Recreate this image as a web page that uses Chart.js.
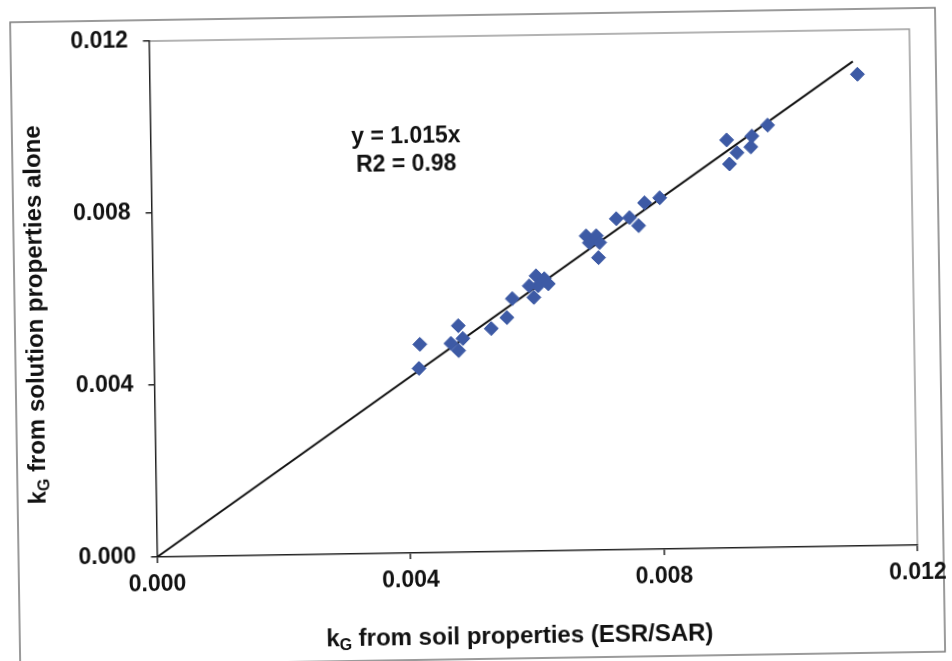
<!DOCTYPE html>
<html>
<head>
<meta charset="utf-8">
<script src="https://cdn.jsdelivr.net/npm/chart.js@4/dist/chart.umd.min.js"></script>
<style>
  html, body { margin: 0; padding: 0; background: #ffffff; overflow: hidden; }
  #wrap { width: 952px; height: 661px; transform: rotate(-0.9deg); transform-origin: 476px 330px; }
  canvas { display: block; }
</style>
</head>
<body>
<div id="wrap"><canvas id="c" width="952" height="661"></canvas></div>
<script>
// ---- data ----
const soilK = [0.01117, 0.00974, 0.00949, 0.00947, 0.00909, 0.00925, 0.00913,
  0.00802, 0.00778, 0.00733, 0.00754, 0.00768, 0.00685, 0.00701, 0.00690, 0.00706,
  0.00704, 0.00605, 0.00618, 0.00608, 0.00594, 0.00601, 0.00624, 0.00567, 0.00558,
  0.00533, 0.00481, 0.00469, 0.00488, 0.00481, 0.00420, 0.00418];
const solutionK = [0.01097, 0.00982, 0.00957, 0.00932, 0.00949, 0.00919, 0.00893,
  0.00817, 0.00806, 0.00770, 0.00772, 0.00753, 0.00731, 0.00731, 0.00715, 0.00715,
  0.00680, 0.00640, 0.00633, 0.00617, 0.00617, 0.00590, 0.00621, 0.00588, 0.00544,
  0.00519, 0.00527, 0.00486, 0.00497, 0.00469, 0.00485, 0.00429];
const trendX = [0, 0.0111];
const trendY = [0, 0.01127];
const tickValues = [0.000, 0.004, 0.008, 0.012];
const tickLabels = ['0.000', '0.004', '0.008', '0.012'];
const equationLines = ['y = 1.015x', 'R2 = 0.98'];
const xTitle = 'kG from soil properties (ESR/SAR)';
const yTitle = 'kG from solution properties alone';

const FONT = '"Liberation Sans", Arial, Helvetica, sans-serif';
const points = soilK.map((x, i) => ({ x: x, y: solutionK[i] }));
const trend = trendX.map((x, i) => ({ x: x, y: trendY[i] }));

const framePlugin = {
  id: 'frame',
  beforeDraw(chart) {
    const ctx = chart.ctx;
    ctx.save();
    ctx.fillStyle = '#ffffff';
    ctx.fillRect(0, 0, chart.width, chart.height);
    ctx.strokeStyle = '#7a7a7a';
    ctx.lineWidth = 1.5;
    ctx.strokeRect(15, 15, 925, 644);
    const a = chart.chartArea;
    ctx.strokeStyle = '#9a9a9a';
    ctx.lineWidth = 1.5;
    ctx.beginPath();
    ctx.moveTo(a.left, a.top);
    ctx.lineTo(a.right, a.top);
    ctx.lineTo(a.right, a.bottom);
    ctx.stroke();
    ctx.restore();
  },
  afterDraw(chart) {
    const ctx = chart.ctx;
    const xs = chart.scales.x, ys = chart.scales.y;
    ctx.save();
    ctx.fillStyle = '#111111';
    ctx.font = 'bold 23px ' + FONT;
    ctx.textAlign = 'center';
    ctx.textBaseline = 'middle';
    const cx = xs.getPixelForValue(0.00403);
    ctx.fillText(equationLines[0], cx, ys.getPixelForValue(0.00968));
    ctx.fillText(equationLines[1], cx, ys.getPixelForValue(0.00902));
    // axis titles with subscript G
    const drawSub = (x, y, rot, rest) => {
      ctx.save();
      ctx.translate(x, y);
      ctx.rotate(rot);
      const big = 'bold 24px ' + FONT, small = 'bold 16px ' + FONT;
      ctx.font = big;
      const wK = ctx.measureText('k').width;
      ctx.font = small;
      const wG = ctx.measureText('G').width;
      ctx.font = big;
      const wR = ctx.measureText(rest).width;
      const total = wK + wG + wR;
      let px = -total / 2;
      ctx.textAlign = 'left';
      ctx.textBaseline = 'alphabetic';
      ctx.fillText('k', px, 8);
      px += wK;
      ctx.font = small;
      ctx.fillText('G', px, 12);
      px += wG;
      ctx.font = big;
      ctx.fillText(rest, px, 8);
      ctx.restore();
    };
    drawSub(515, 636, 0, xTitle.slice(2));
    drawSub(35, 308, -Math.PI / 2, yTitle.slice(2));
    ctx.restore();
  }
};

new Chart(document.getElementById('c'), {
  type: 'scatter',
  data: {
    datasets: [
      {
        type: 'line',
        data: trend,
        borderColor: '#111111',
        borderWidth: 2,
        pointRadius: 0,
        fill: false,
        order: 2
      },
      {
        data: points,
        pointStyle: 'rectRot',
        pointRadius: 7,
        backgroundColor: '#3d5aa5',
        borderColor: '#3d5aa5',
        borderWidth: 1,
        order: 1
      }
    ]
  },
  options: {
    responsive: false,
    animation: false,
    devicePixelRatio: 1,
    layout: { padding: { left: 15, top: 36, right: 38, bottom: 0 } },
    plugins: { legend: { display: false }, tooltip: { enabled: false } },
    scales: {
      x: {
        type: 'linear',
        min: 0, max: 0.012,
        afterBuildTicks: (s) => { s.ticks = tickValues.map(v => ({ value: v })); },
        afterFit: (s) => { s.height = 109; },
        grid: { display: true, drawOnChartArea: false, drawTicks: true, tickLength: 6, color: '#222222', lineWidth: 1.5 },
        border: { display: true, color: '#222222', width: 1.5 },
        ticks: {
          padding: 8, maxRotation: 0, autoSkip: false, color: '#111111',
          font: { family: FONT, size: 23, weight: 'bold' },
          callback: (v) => tickLabels[tickValues.indexOf(v)]
        },
        title: { display: false }
      },
      y: {
        type: 'linear',
        min: 0, max: 0.012,
        afterBuildTicks: (s) => { s.ticks = tickValues.map(v => ({ value: v })); },
        afterFit: (s) => { s.width = 138.5; },
        grid: { display: true, drawOnChartArea: false, drawTicks: true, tickLength: 6, color: '#222222', lineWidth: 1.5 },
        border: { display: true, color: '#222222', width: 1.5 },
        ticks: {
          padding: 15, color: '#111111',
          font: { family: FONT, size: 23, weight: 'bold' },
          callback: (v) => tickLabels[tickValues.indexOf(v)]
        },
        title: { display: false }
      }
    }
  },
  plugins: [framePlugin]
});
</script>
</body>
</html>
